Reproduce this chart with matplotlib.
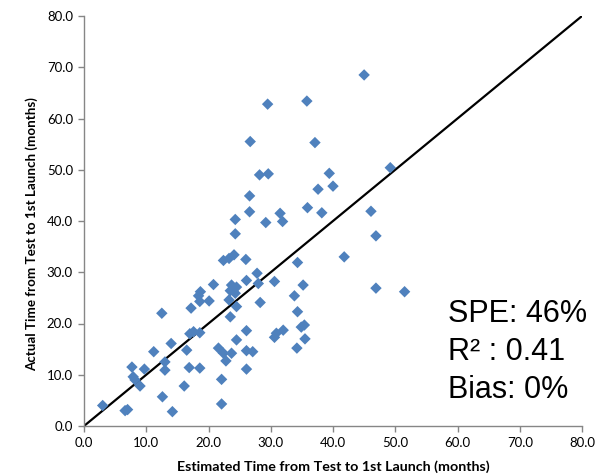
import matplotlib
matplotlib.use("Agg")
import matplotlib.pyplot as plt

est = [3.0, 6.6, 7.0, 7.7, 7.9, 8.2, 9.0, 9.7, 11.2, 12.5, 12.6, 13.0, 13.0, 14.0, 14.2,
       16.1, 16.5, 16.9, 17.0, 17.6, 18.6, 17.2, 18.4, 18.7, 18.6, 18.6, 20.1, 20.8, 21.6,
       22.1, 22.1, 22.4, 22.4, 22.8, 23.7, 23.3, 24.1, 26.0, 23.3, 23.5, 23.7, 24.5, 23.5,
       24.3, 24.5, 24.5, 24.3, 24.3, 26.1, 26.1, 26.1, 27.1, 26.1, 26.7, 26.6, 26.6, 27.8,
       28.0, 28.3, 28.2, 29.5, 29.6, 29.2, 30.6, 30.9, 30.6, 31.5, 31.9, 32.0, 34.3, 33.8,
       34.3, 34.2, 35.2, 35.4, 34.9, 35.5, 35.8, 35.9, 37.1, 37.6, 38.2, 39.4, 40.0, 41.8,
       45.0, 46.1, 46.9, 46.9, 49.2, 51.5]
actual = [4.0, 3.0, 3.2, 11.5, 9.6, 9.0, 7.8, 11.1, 14.5, 22.0, 5.7, 12.5, 10.9, 16.1, 2.8,
          7.8, 14.8, 11.4, 18.0, 18.4, 18.2, 23.0, 25.4, 26.2, 24.3, 11.3, 24.4, 27.6, 15.2,
          9.1, 4.3, 32.3, 14.2, 12.7, 14.2, 32.7, 33.4, 32.5, 24.6, 21.3, 27.5, 27.1, 26.4,
          25.9, 23.3, 16.8, 40.3, 37.5, 28.4, 18.6, 14.7, 14.5, 11.1, 55.5, 44.9, 41.8, 29.8,
          27.8, 24.1, 49.0, 62.8, 49.2, 39.7, 28.2, 18.1, 17.3, 41.5, 39.9, 18.7, 31.9, 25.4,
          22.3, 15.2, 27.5, 19.7, 19.3, 17.0, 63.4, 42.6, 55.3, 46.2, 41.6, 49.3, 46.8, 33.0,
          68.5, 41.9, 37.1, 26.9, 50.4, 26.2]
ticks = [0, 10, 20, 30, 40, 50, 60, 70, 80]
tick_labels = ["0.0", "10.0", "20.0", "30.0", "40.0", "50.0", "60.0", "70.0", "80.0"]
stats = ["SPE: 46%", "R\u00b2 : 0.41", "Bias: 0%"]

fig = plt.figure(figsize=(6.06, 4.76), dpi=100)
ax = fig.add_axes([84/606, 1-426/476, (582-84)/606, (426-16)/476])

ax.plot([0, 80], [0, 80], color="black", lw=1.6, zorder=2)
ax.scatter(est, actual, marker="D", s=34, color="#4F81BD", edgecolors="none", zorder=3)

ax.set_xlim(0, 80)
ax.set_ylim(0, 80)
ax.set_xticks(ticks)
ax.set_yticks(ticks)
ax.set_xticklabels(tick_labels)
ax.set_yticklabels(tick_labels)
for s in ["top", "right"]:
    ax.spines[s].set_visible(False)
for s in ["left", "bottom"]:
    ax.spines[s].set_color("#868686")
    ax.spines[s].set_linewidth(1.0)
ax.tick_params(axis="both", direction="out", length=4, color="#868686", width=1.0,
               labelsize=9.5, labelcolor="black", pad=4)
for lab in ax.get_xticklabels() + ax.get_yticklabels():
    lab.set_family("Lato")

ax.set_xlabel("Estimated Time from Test to 1st Launch (months)", family="Lato",
              fontweight="bold", fontsize=10.3, labelpad=8)
ax.set_ylabel("Actual Time from Test to 1st Launch (months)", family="Lato",
              fontweight="bold", fontsize=9.6)
ax.yaxis.set_label_coords(-0.093, 0.468)

for txt, yv in zip(stats, [20.35, 12.9, 5.5]):
    ax.text(58.5, yv, txt, family="Liberation Sans", fontsize=22, va="baseline",
            ha="left", color="black")

fig.savefig("out.png", dpi=100)
